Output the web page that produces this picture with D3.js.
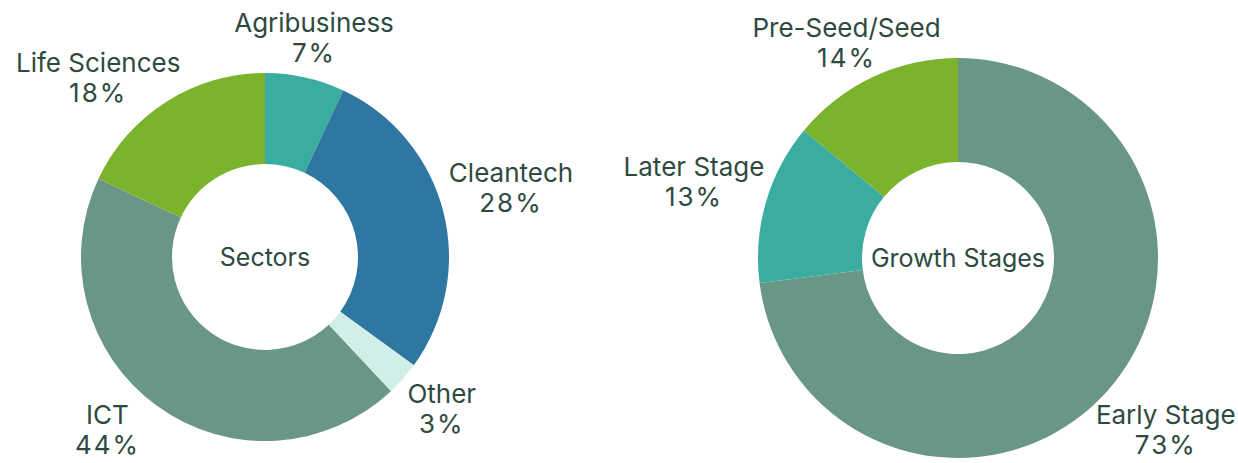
<!DOCTYPE html>
<meta charset="utf-8">
<style>
body { margin: 0; background: #fff; }
.lbl { font: 26px Inter, sans-serif; fill: #2e4a3f; }
.title { font: 25px Inter, sans-serif; fill: #2e4a3f; }
.pct { letter-spacing: 2px; }
</style>
<body>
<script src="https://cdn.jsdelivr.net/npm/d3@7"></script>
<script>

// sectors donut
var sectorNames = ["Agribusiness", "Cleantech", "Other", "ICT", "Life Sciences"];
var sectorValues = [7, 28, 3, 44, 18];
var sectorColors = ["#3aaca0", "#2e77a0", "#d1eee9", "#6a9685", "#7cb32c"];

// growth stages donut
var stageNames = ["Early Stage", "Later Stage", "Pre-Seed/Seed"];
var stageValues = [73, 13, 14];
var stageColors = ["#6a9685", "#3aaca0", "#7cb32c"];

var width = 1238, height = 463;

// hand nudges for a few labels that sit off the plain radial spot
var labelNudge = {
  "Life Sciences": [-44, 14],
  "ICT": [-22, 2],
  "Cleantech": [-6, -4],
  "Other": [-2, -6],
  "Early Stage": [17, 10],
  "Pre-Seed/Seed": [-8, 5],
  "Later Stage": [10, 3]
};

var svg = d3.select("body").append("svg")
    .attr("width", width)
    .attr("height", height);

function donut(cx, cy, outer, inner, names, values, colors, title) {
  var data = names.map(function(n, i) { return {name: n, value: values[i]}; });

  var pie = d3.pie().sort(null).value(function(d) { return d.value; });
  var arc = d3.arc().innerRadius(inner).outerRadius(outer);
  var color = d3.scaleOrdinal().domain(names).range(colors);

  var g = svg.append("g")
      .attr("transform", "translate(" + cx + "," + cy + ")");

  var arcs = pie(data);

  g.selectAll("path")
      .data(arcs)
    .enter().append("path")
      .attr("d", arc)
      .attr("fill", function(d) { return color(d.data.name); });

  g.append("text")
      .attr("class", "title")
      .attr("text-anchor", "middle")
      .attr("dy", "0.35em")
      .text(title);

  // labels sit just outside the ring, pushed out by half their box
  var r0 = outer + 12;
  var lab = g.selectAll(".slice-label")
      .data(arcs)
    .enter().append("g")
      .attr("class", "slice-label");

  lab.append("text")
      .attr("class", "lbl")
      .attr("text-anchor", "middle")
      .attr("y", -15)
      .attr("dy", "0.35em")
      .text(function(d) { return d.data.name; });

  lab.append("text")
      .attr("class", "lbl pct")
      .attr("text-anchor", "middle")
      .attr("y", 15)
      .attr("dy", "0.35em")
      .text(function(d) { return d.data.value + "%"; });

  lab.attr("transform", function(d) {
    var bb = this.getBBox();
    var hw = bb.width / 2, hh = 28;
    var a = (d.startAngle + d.endAngle) / 2;
    var ux = Math.sin(a), uy = -Math.cos(a);
    var ex = Math.abs(ux) > 1e-6 ? hw / Math.abs(ux) : Infinity;
    var ey = Math.abs(uy) > 1e-6 ? hh / Math.abs(uy) : Infinity;
    var dist = r0 + Math.min(ex, ey);
    var nd = labelNudge[d.data.name] || [0, 0];
    var x = ux * dist + nd[0], y = uy * dist + nd[1];
    // keep inside the picture
    y = Math.min(y, height - 3 - cy - (bb.y + bb.height));
    x = Math.min(x, width - 2 - cx - hw);
    return "translate(" + x + "," + y + ")";
  });
}

donut(265, 257, 184, 93, sectorNames, sectorValues, sectorColors, "Sectors");
donut(958, 258, 200, 96, stageNames, stageValues, stageColors, "Growth Stages");

</script>
</body>
